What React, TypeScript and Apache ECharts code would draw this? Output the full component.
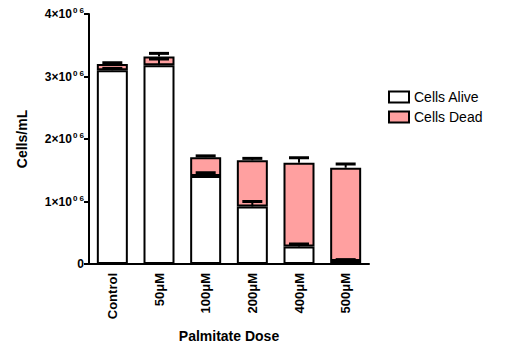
import React, { useEffect, useRef } from "react";
import * as echarts from "echarts";

const categories = ["Control", "50\u03bcM", "100\u03bcM", "200\u03bcM", "400\u03bcM", "500\u03bcM"];
const aliveMean = [3.1e6, 3.18e6, 1.41e6, 0.92e6, 0.28e6, 0.05e6];
const aliveErr = [0.03e6, 0.1e6, 0.05e6, 0.08e6, 0.04e6, 0.02e6];
const totalMean = [3.2e6, 3.32e6, 1.71e6, 1.66e6, 1.62e6, 1.54e6];
const totalErr = [0.02e6, 0.05e6, 0.02e6, 0.03e6, 0.08e6, 0.06e6];
const yTicks = [0, 1e6, 2e6, 3e6, 4e6];

const deadMean = totalMean.map((t, i) => t - aliveMean[i]);

export default function App() {
  const ref = useRef<HTMLDivElement>(null);
  useEffect(() => {
    const chart = echarts.init(ref.current!, null, { renderer: "svg" });
    const font = "'Liberation Sans', Arial, sans-serif";
    const errData: number[][] = [];
    categories.forEach((_, i) => {
      errData.push([i, aliveMean[i], aliveMean[i] + aliveErr[i]]);
      errData.push([i, totalMean[i], totalMean[i] + totalErr[i]]);
    });
    chart.setOption({
      animation: false,
      grid: { left: 89, right: 138, top: 14, bottom: 80 },
      legend: {
        orient: "vertical",
        left: 383,
        top: 85,
        itemWidth: 20,
        itemHeight: 11,
        itemGap: 6,
        textStyle: { fontFamily: font, fontSize: 14, color: "#000" },
        data: [
          { name: "Cells Alive", icon: "rect", itemStyle: { color: "#fff", borderColor: "#000", borderWidth: 2 } },
          { name: "Cells Dead", icon: "rect", itemStyle: { color: "#FFA0A0", borderColor: "#000", borderWidth: 2 } },
        ],
      },
      xAxis: {
        type: "category",
        data: categories,
        name: "Palmitate Dose",
        nameLocation: "middle",
        nameGap: 65,
        nameTextStyle: { fontFamily: font, fontSize: 14, fontWeight: "bold", color: "#000" },
        axisLine: { lineStyle: { color: "#000", width: 2 } },
        axisTick: { show: false },
        axisLabel: { rotate: 90, fontFamily: font, fontSize: 13, fontWeight: "bold", color: "#000", margin: 9 },
      },
      yAxis: {
        type: "value",
        min: 0,
        max: 4e6,
        interval: 1e6,
        name: "Cells/mL",
        nameLocation: "middle",
        nameGap: 60,
        nameTextStyle: { fontFamily: font, fontSize: 14, fontWeight: "bold", color: "#000" },
        splitLine: { show: false },
        axisLine: { show: true, lineStyle: { color: "#000", width: 2 } },
        axisTick: { show: true, length: 5, lineStyle: { color: "#000", width: 2 } },
        axisLabel: {
          fontFamily: font,
          fontSize: 12,
          fontWeight: "bold",
          color: "#000",
          margin: 5,
          formatter: (v: number) => {
            if (!yTicks.includes(v)) return "";
            if (v === 0) return "0";
            return `${v / 1e6}\u00d710{sup|0 6}`;
          },
          rich: {
            sup: { fontSize: 8, fontWeight: "bold", fontFamily: font, color: "#000", verticalAlign: "bottom", padding: [0, 0, 7, 1] },
          },
        },
      },
      series: [
        {
          name: "Cells Alive",
          type: "bar",
          stack: "s",
          barWidth: 31,
          data: aliveMean,
          itemStyle: { color: "#fff", borderColor: "#000", borderWidth: 2 },
        },
        {
          name: "Cells Dead",
          type: "bar",
          stack: "s",
          barWidth: 31,
          data: deadMean,
          itemStyle: { color: "#FFA0A0", borderColor: "#000", borderWidth: 2 },
        },
        {
          type: "custom",
          data: errData,
          z: 10,
          renderItem: (params: any, api: any) => {
            const x = api.value(0);
            const lo = api.coord([x, api.value(1)]);
            const hi = api.coord([x, api.value(2)]);
            const hw = 10;
            return {
              type: "group",
              children: [
                { type: "line", shape: { x1: lo[0], y1: lo[1], x2: hi[0], y2: hi[1] }, style: { stroke: "#000", lineWidth: 2 } },
                { type: "line", shape: { x1: hi[0] - hw, y1: hi[1], x2: hi[0] + hw, y2: hi[1] }, style: { stroke: "#000", lineWidth: 3 } },
              ],
            };
          },
        },
      ],
    });
    return () => chart.dispose();
  }, []);
  return <div ref={ref} style={{ width: 507, height: 348, position: "absolute", left: 0, top: 0, background: "#fff" }} />;
}
